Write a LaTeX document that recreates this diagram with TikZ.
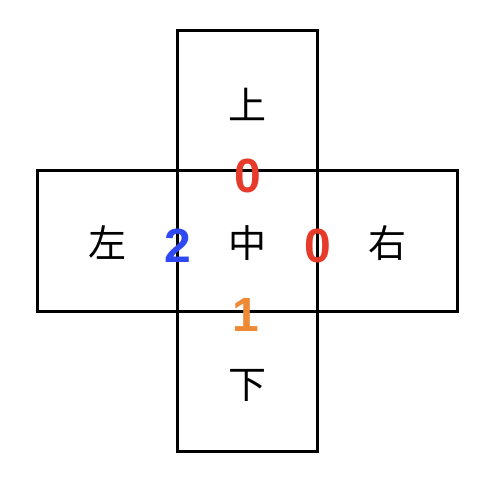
\documentclass[tikz,border=0pt]{standalone}
\usepackage{fontspec}
\setmainfont{Liberation Sans}
\newfontfamily\cjk{Noto Sans CJK SC}
\definecolor{numred}{HTML}{E63A2A}
\definecolor{numblue}{HTML}{2E48F2}
\definecolor{numorange}{HTML}{EE8A35}
\begin{document}
\begin{tikzpicture}[x=1pt,y=1pt,
  box/.style={draw=black,line width=3pt},
  hanzi/.style={font=\cjk\fontsize{38}{38}\selectfont,inner sep=0pt},
  num/.style={font=\bfseries\fontsize{48}{48}\selectfont,inner sep=0pt}]
\useasboundingbox (0,0) rectangle (494,482);
\draw[box] (177.5,31) rectangle (317.5,451);
\draw[box] (37,171) rectangle (457,311);
\node[hanzi] (up) at (247.5,378) {上};
\node[hanzi] (mid) at (247.5,239) {中};
\node[hanzi] (left) at (107,239) {左};
\node[hanzi] (right) at (387,239) {右};
\node[hanzi] (down) at (247.5,97) {下};
\node[num,text=numred] (n0a) at (247.5,306) {0};
\node[num,text=numred] (n0b) at (317.5,236) {0};
\node[num,text=numblue] (n2) at (177.5,236) {2};
\node[num,text=numorange] (n1) at (246,167) {1};
\end{tikzpicture}
\end{document}
